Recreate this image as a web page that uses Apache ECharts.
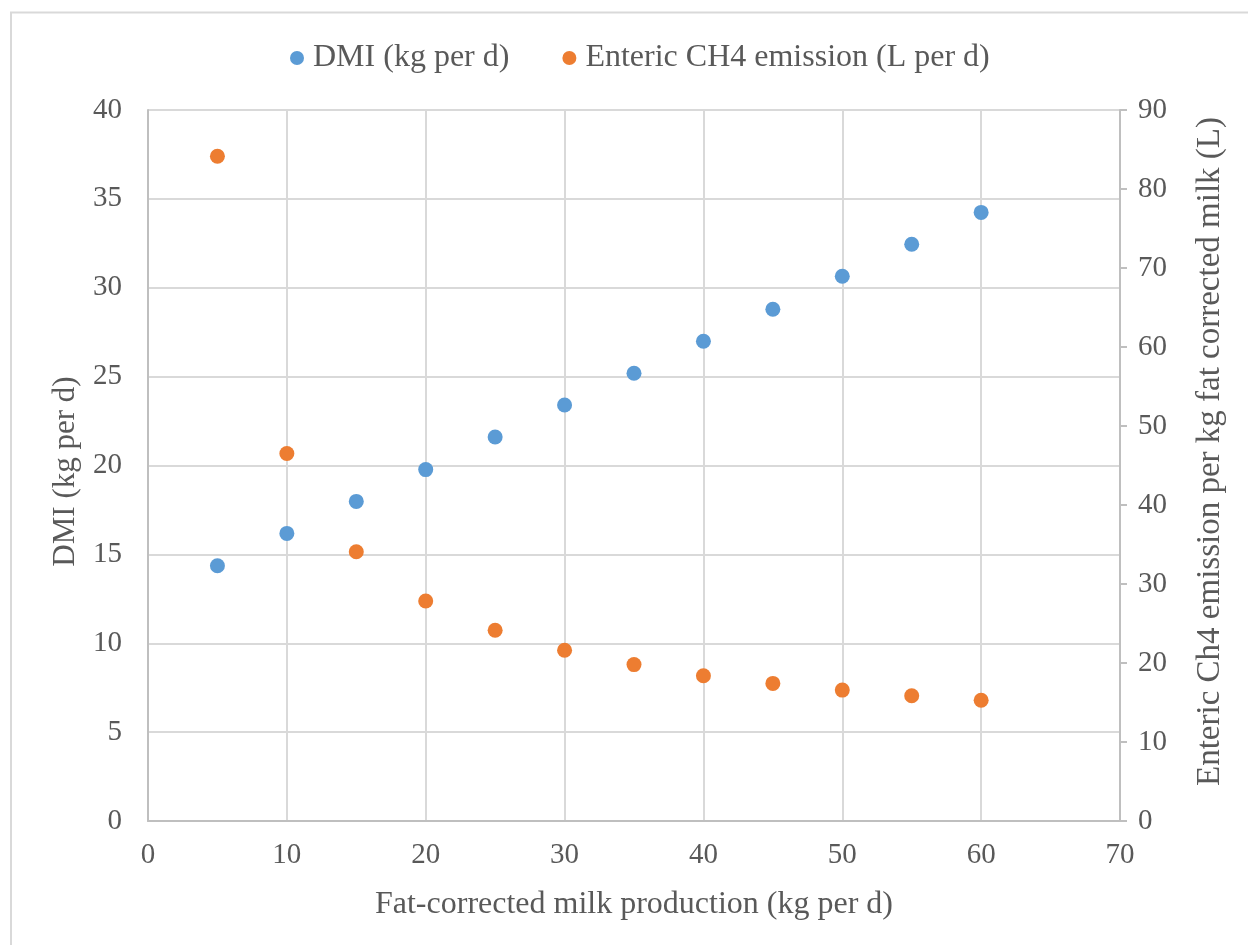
<!DOCTYPE html>
<html>
<head>
<meta charset="utf-8">
<script src="https://cdn.jsdelivr.net/npm/echarts@6/dist/echarts.min.js"></script>
<style>
  html, body { margin: 0; padding: 0; background: #fff; }
  #chart { width: 1248px; height: 945px; }
</style>
</head>
<body>
<div id="chart"></div>
<script>
// Fat-corrected milk production (kg per d)
const fcm = [5, 10, 15, 20, 25, 30, 35, 40, 45, 50, 55, 60];
// Dry matter intake (kg per d)
const dmi = [14.36, 16.18, 17.98, 19.77, 21.60, 23.40, 25.19, 26.99, 28.79, 30.65, 32.45, 34.24];
// Enteric CH4 emission per kg fat corrected milk (L)
const ch4 = [84.14, 46.52, 34.09, 27.85, 24.14, 21.61, 19.80, 18.39, 17.42, 16.57, 15.86, 15.28];

const seriesNames = ['DMI (kg per d)', 'Enteric CH4 emission (L per d)'];
const xTitle = 'Fat-corrected milk production (kg per d)';
const yLeftTitle = 'DMI (kg per d)';
const yRightTitle = 'Enteric Ch4 emission per kg fat corrected milk (L)';

const FONT = '"Liberation Serif", "Times New Roman", serif';
const TXT = '#595959';
const GRID = '#D9D9D9';
const AXIS = '#BFBFBF';

const chart = echarts.init(document.getElementById('chart'), null, { renderer: 'canvas' });

chart.setOption({
  animation: false,
  backgroundColor: '#ffffff',
  textStyle: { fontFamily: FONT, color: TXT },
  graphic: [{
    type: 'rect',
    shape: { x: 11, y: 12.5, width: 1400, height: 1100 },
    style: { fill: 'none', stroke: GRID, lineWidth: 2 },
    silent: true
  }],
  legend: {
    top: 37,
    left: 285,
    itemGap: 53,
    itemWidth: 14,
    itemHeight: 14,
    icon: 'circle',
    textStyle: { fontFamily: FONT, fontSize: 32, color: TXT, padding: [0, 0, 0, 4] },
    data: seriesNames
  },
  grid: { left: 148, right: 128, top: 110, bottom: 124, containLabel: false },
  xAxis: {
    type: 'value',
    min: 0, max: 70, interval: 10,
    name: xTitle,
    nameLocation: 'middle',
    nameGap: 68,
    nameTextStyle: { fontFamily: FONT, fontSize: 32, color: TXT },
    axisLine: { show: true, lineStyle: { color: AXIS, width: 2 } },
    axisTick: { show: false },
    axisLabel: { fontFamily: FONT, fontSize: 29, color: TXT, margin: 20 },
    splitLine: { show: true, lineStyle: { color: GRID, width: 2 } }
  },
  yAxis: [{
    type: 'value',
    position: 'left',
    min: 0, max: 40, interval: 5,
    name: yLeftTitle,
    nameLocation: 'middle',
    nameGap: 67,
    nameTextStyle: { fontFamily: FONT, fontSize: 31, color: TXT, padding: [0, 12, 0, 0] },
    axisLine: { show: true, lineStyle: { color: AXIS, width: 2 } },
    axisTick: { show: false },
    axisLabel: { fontFamily: FONT, fontSize: 29, color: TXT, margin: 26 },
    splitLine: { show: true, lineStyle: { color: GRID, width: 2 } }
  }, {
    type: 'value',
    position: 'right',
    min: 0, max: 90, interval: 10,
    name: yRightTitle,
    nameLocation: 'middle',
    nameGap: 74,
    nameRotate: 90,
    nameTextStyle: { fontFamily: FONT, fontSize: 33, color: TXT, padding: [0, 0, 0, 28] },
    axisLine: { show: true, lineStyle: { color: AXIS, width: 2 } },
    axisTick: { show: true, inside: false, length: 7, lineStyle: { color: AXIS, width: 2 } },
    axisLabel: { fontFamily: FONT, fontSize: 29, color: TXT, margin: 18 },
    splitLine: { show: false }
  }],
  series: [{
    name: seriesNames[0],
    type: 'scatter',
    yAxisIndex: 0,
    symbol: 'circle',
    symbolSize: 15,
    itemStyle: { color: '#5B9BD5', opacity: 1 },
    data: fcm.map((x, i) => [x, dmi[i]])
  }, {
    name: seriesNames[1],
    type: 'scatter',
    yAxisIndex: 1,
    symbol: 'circle',
    symbolSize: 15,
    itemStyle: { color: '#ED7D31', opacity: 1 },
    data: fcm.map((x, i) => [x, ch4[i]])
  }]
});
</script>
</body>
</html>
